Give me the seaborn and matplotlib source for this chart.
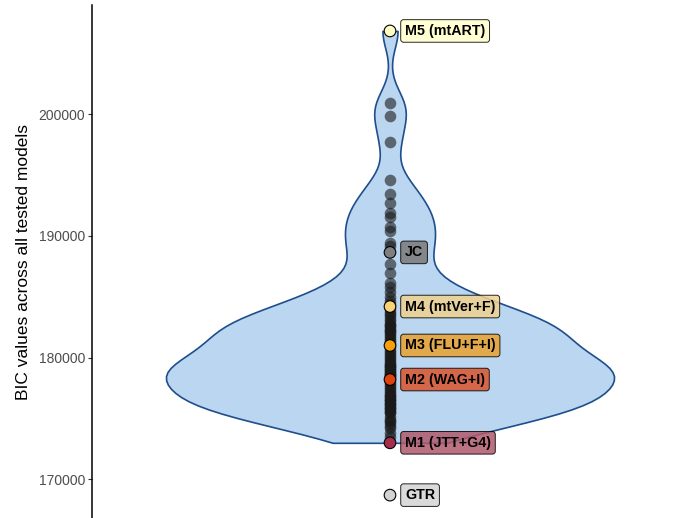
import numpy as np
import pandas as pd
import matplotlib
matplotlib.use("Agg")
import matplotlib.pyplot as plt
import seaborn as sns

# ---- data (BIC values) ----
other_bic = [200950, 199890, 197700, 194600, 193450, 192740, 191860, 191580,
             190740, 190410, 189450, 189180, 187700, 186980, 186160, 185830,
             185400,
             184960, 184650, 184420, 183980, 183750, 183560, 183420, 183200,
             182980, 182800, 182700, 182620, 182440, 182300, 182200, 182110,
             181950, 181780, 181620, 181450, 181280, 181150, 180850, 180630,
             180480, 180300, 180150,
             179970, 179820, 179640, 179480, 179400, 179320, 179250, 179150,
             178990, 178950, 178850, 178750, 178660, 178600, 178500, 178450,
             178350, 178050, 177900, 177750, 177600, 177420, 177250, 177090,
             176920, 176850, 176770, 176600, 176520, 176440, 176280, 176200,
             176110, 175950, 175870, 175780, 175620, 175540, 175450,
             175120, 174900, 174790, 174620, 174350, 174220, 173810, 173480]
hl_names = ["M5 (mtART)", "JC", "M4 (mtVer+F)", "M3 (FLU+F+I)",
            "M2 (WAG+I)", "M1 (JTT+G4)", "GTR"]
hl_bic = [206850, 188650, 184200, 181000, 178200, 173000, 168700]
hl_point_col = ["#FFFFC4", "#7F7F7F", "#F9D273", "#F5A00A", "#E0420E",
                "#A52C4A", "#D3D3D3"]
hl_label_col = ["#FFFFCC", "#7A7A7A", "#F0D18F", "#E8A12E", "#D9542C",
                "#B05A6C", "#D4D4D4"]
in_violin = [True, True, True, True, True, True, False]

violin_vals = other_bic + [v for v, f in zip(hl_bic, in_violin) if f]
df = pd.DataFrame({"bic": violin_vals, "grp": 0})

sns.set_style("white")
plt.rcParams["font.family"] = ["Liberation Sans", "DejaVu Sans"]

fig = plt.figure(figsize=(6.77, 5.18), dpi=100)
ax = fig.add_axes([92 / 677, 0, 585 / 677, 513 / 518])

# kernel bandwidth of about 1450 BIC units
arr = np.asarray(violin_vals, dtype=float)
scott = arr.std(ddof=1) * len(arr) ** (-0.2)
bw_adj = 1450 / scott

sns.violinplot(data=df, x="grp", y="bic", native_scale=True, width=0.9,
               cut=0, bw_method="scott", bw_adjust=bw_adj, inner=None,
               color="#BAD6F0", saturation=1, linecolor="#1F4E8C",
               linewidth=1.2, ax=ax)

sns.scatterplot(x=np.zeros(len(other_bic)), y=other_bic, color="#1a1a1a",
                alpha=0.6, s=70, linewidth=0, ax=ax, zorder=3)
sns.scatterplot(x=np.zeros(len(hl_bic)), y=hl_bic, hue=hl_names,
                palette=dict(zip(hl_names, hl_point_col)), s=70,
                edgecolor="black", linewidth=0.8, legend=False, ax=ax,
                zorder=4)

for name, v, c in zip(hl_names, hl_bic, hl_label_col):
    ax.annotate(name, xy=(0, v), xytext=(15, 0), textcoords="offset pixels",
                ha="left", va="center", fontsize=10.3, fontweight="bold",
                color="black", zorder=5,
                bbox=dict(boxstyle="round,pad=0.3,rounding_size=0.2",
                          fc=c, ec="black", lw=0.7, alpha=0.85))

ax.set_xlim(-298 / 497.8, 287 / 497.8)
ax.set_ylim(166820, 208983)
ax.set_yticks([170000, 180000, 190000, 200000])
ax.set_yticklabels(["170000", "180000", "190000", "200000"])
ax.set_xticks([])
ax.set_xlabel("")
ax.set_ylabel("BIC values across all tested models", fontsize=12.5,
              color="black", labelpad=5)
ax.tick_params(axis="y", left=True, length=3, width=0.8, color="#333333",
               labelcolor="#4D4D4D", labelsize=10, pad=2)
for s in ["top", "right", "bottom"]:
    ax.spines[s].set_visible(False)
ax.spines["left"].set_color("black")
ax.spines["left"].set_linewidth(1.1)
ax.set_facecolor("white")

fig.savefig("out.png", dpi=100)
